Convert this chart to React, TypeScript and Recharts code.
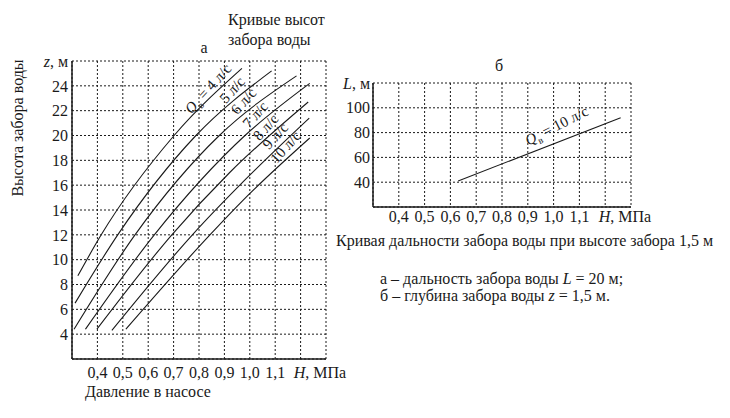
import { LineChart, Line, XAxis, YAxis, CartesianGrid, ReferenceDot } from 'recharts';

const FONT = '"Liberation Serif", "DejaVu Serif", serif';
const INK = '#1a1a1a';

// pressure in the pump H, MPa (same scale on both panels)
const pressureTicks = [0.4, 0.5, 0.6, 0.7, 0.8, 0.9, 1.0, 1.1, 1.2, 1.3];
// panel а: suction height z, m
const heightTicks = [4, 6, 8, 10, 12, 14, 16, 18, 20, 22, 24, 26];
// panel б: suction distance L, m
const distanceTicks = [40, 60, 80, 100, 120];

// water flow Qв, l/s
const flowRates = [4, 5, 6, 7, 8, 9, 10];

// panel а curves, [H, z]
const curveQ4 = [[0.323, 8.7], [0.415, 12], [0.702, 20], [0.969, 25.4]];
const curveQ5 = [[0.312, 6.5], [0.48, 12], [0.788, 20], [1.086, 25.2]];
const curveQ6 = [[0.308, 4.4], [0.548, 12], [0.88, 20], [1.184, 24.8]];
const curveQ7 = [[0.353, 4.4], [0.624, 12], [0.981, 20], [1.236, 24.2]];
const curveQ8 = [[0.398, 4.4], [0.693, 12], [0.92, 17], [1.23, 22.7]];
const curveQ9 = [[0.457, 4.3], [0.774, 12], [0.985, 16.5], [1.234, 21.4]];
const curveQ10 = [[0.512, 4.4], [0.843, 12], [0.974, 14.8], [1.236, 19.8]];
const heightCurves = [curveQ4, curveQ5, curveQ6, curveQ7, curveQ8, curveQ9, curveQ10];

// panel б line, [H, L] at Qв = 10 l/s
const distanceCurve = [[0.63, 41], [1.26, 92]];

// where the curve captions sit, [H, z]
const flowLabelSpots = [
  [0.85, 23.5], [0.945, 23.4], [0.99, 22.5], [1.036, 21.4],
  [1.077, 20.4], [1.115, 19.7], [1.155, 18.8],
];

const toPoints = (pairs: number[][]) => pairs.map(([h, v]) => ({ h, v }));
const fmt = (v: number) => v.toFixed(1).replace('.', ',');

const textStyle = { fontFamily: FONT, fontSize: 16, fill: INK };

function PressureTick(props: any) {
  const { x, y, payload } = props;
  const v = payload.value;
  if (v === 1.2) return <g />;
  if (v === 1.3) {
    return (
      <text x={x - 6} y={y} dy="0.71em" textAnchor="middle" {...textStyle}>
        <tspan fontStyle="italic">H</tspan>, МПа
      </text>
    );
  }
  return (
    <text x={x} y={y} dy="0.71em" textAnchor="middle" {...textStyle}>
      {fmt(v)}
    </text>
  );
}

function makeValueTick(top: number, name: string) {
  return function ValueTick(props: any) {
    const { x, y, payload } = props;
    if (payload.value === top) {
      return (
        <text x={x} y={y} dy="0.355em" textAnchor="end" {...textStyle}>
          <tspan fontStyle="italic">{name}</tspan>, м
        </text>
      );
    }
    return (
      <text x={x} y={y} dy="0.355em" textAnchor="end" {...textStyle}>
        {payload.value}
      </text>
    );
  };
}

function flowCaption(rate: number, withQ: boolean, angle: number) {
  return (props: any) => {
    const { x, y } = props.viewBox;
    return (
      <text
        x={x}
        y={y}
        transform={`rotate(${angle} ${x} ${y})`}
        textAnchor="middle"
        fontFamily={FONT}
        fontSize={15}
        fill={INK}
      >
        {withQ && <tspan fontStyle="italic">Q</tspan>}
        {withQ && <tspan fontSize={10} dy={4}>в</tspan>}
        {withQ && <tspan dy={-4}> = </tspan>}
        {`${rate} л/с`}
      </text>
    );
  };
}

const HeightTick = makeValueTick(26, 'z');
const DistanceTick = makeValueTick(120, 'L');

export default function App() {
  return (
    <div style={{ position: 'absolute', left: 0, top: 0, width: 730, height: 418, background: '#fff' }}>
      <div style={{ position: 'absolute', left: 0, top: 0 }}>
        <LineChart width={360} height={400} margin={{ top: 61, right: 34, bottom: 11, left: 32 }}>
          <CartesianGrid stroke={INK} strokeDasharray="2 2" strokeWidth={1} />
          <XAxis
            type="number"
            dataKey="h"
            domain={[0.3, 1.3]}
            ticks={pressureTicks}
            axisLine={{ stroke: INK, strokeWidth: 1.5 }}
            tickLine={false}
            tick={<PressureTick />}
            height={30}
            allowDataOverflow
          />
          <YAxis
            type="number"
            dataKey="v"
            domain={[2, 26]}
            ticks={heightTicks}
            axisLine={{ stroke: INK, strokeWidth: 1.5 }}
            tickLine={false}
            tickSize={2}
            tickMargin={2}
            tick={<HeightTick />}
            width={40}
            allowDataOverflow
          />
          {heightCurves.map((c, i) => (
            <Line
              key={flowRates[i]}
              data={toPoints(c)}
              dataKey="v"
              type="monotone"
              stroke={INK}
              strokeWidth={1.1}
              dot={false}
              isAnimationActive={false}
            />
          ))}
          {flowLabelSpots.map(([h, z], i) => (
            <ReferenceDot
              key={`lbl${i}`}
              x={h}
              y={z}
              r={0}
              fill="none"
              stroke="none"
              label={flowCaption(flowRates[i], i === 0, -48)}
            />
          ))}
        </LineChart>
      </div>

      <div style={{ position: 'absolute', left: 330, top: 0 }}>
        <LineChart width={400} height={240} margin={{ top: 83, right: 99, bottom: 3, left: 3 }}>
          <CartesianGrid stroke={INK} strokeDasharray="2 2" strokeWidth={1} />
          <XAxis
            type="number"
            dataKey="h"
            domain={[0.3, 1.3]}
            ticks={pressureTicks}
            axisLine={{ stroke: INK, strokeWidth: 1.5 }}
            tickLine={false}
            tickSize={2}
            tick={<PressureTick />}
            height={30}
          />
          <YAxis
            type="number"
            dataKey="v"
            domain={[20, 120]}
            ticks={distanceTicks}
            axisLine={{ stroke: INK, strokeWidth: 1.5 }}
            tickLine={false}
            tickSize={1}
            tickMargin={2}
            tick={<DistanceTick />}
            width={40}
          />
          <Line
            data={toPoints(distanceCurve)}
            dataKey="v"
            type="linear"
            stroke={INK}
            strokeWidth={1.1}
            dot={false}
            isAnimationActive={false}
          />
          <ReferenceDot x={1.02} y={82} r={0} fill="none" stroke="none" label={flowCaption(10, true, -27)} />
        </LineChart>
      </div>

      <svg width={730} height={418} style={{ position: 'absolute', left: 0, top: 0, pointerEvents: 'none' }}>
        <text x={228} y={25} {...textStyle}>Кривые высот</text>
        <text x={228} y={45} {...textStyle}>забора воды</text>
        <text x={204} y={53} textAnchor="middle" {...textStyle}>а</text>
        <text
          x={17}
          y={128}
          transform="rotate(-90 17 128)"
          textAnchor="middle"
          dominantBaseline="central"
          {...textStyle}
        >
          Высота забора воды
        </text>
        <text x={85} y={397} {...textStyle}>Давление в насосе</text>
        <text x={499} y={71} textAnchor="middle" {...textStyle}>б</text>
        <text x={336} y={246} {...textStyle}>Кривая дальности забора воды при высоте забора 1,5 м</text>
        <text x={380} y={284} {...textStyle}>
          а – дальность забора воды <tspan fontStyle="italic">L</tspan> = 20 м;
        </text>
        <text x={380} y={301} {...textStyle}>
          б – глубина забора воды <tspan fontStyle="italic">z</tspan> = 1,5 м.
        </text>
      </svg>
    </div>
  );
}
